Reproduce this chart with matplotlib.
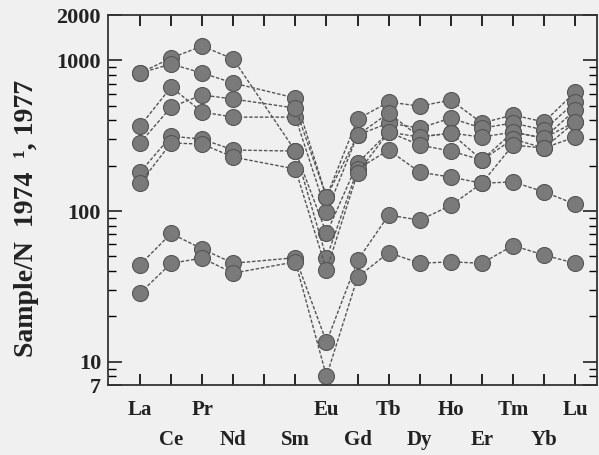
import numpy as np
import matplotlib.pyplot as plt
from matplotlib.ticker import FixedLocator, NullFormatter

# REE spider diagram, chondrite normalised
elements = ["La", "Ce", "Pr", "Nd", "Sm", "Eu", "Gd", "Tb", "Dy", "Ho", "Er", "Tm", "Yb", "Lu"]
positions = [0, 1, 2, 3, 5, 6, 7, 8, 9, 10, 11, 12, 13, 14]   # Pm (4) left out
row1 = ["La", "Pr", "Eu", "Tb", "Ho", "Tm", "Lu"]
row2 = ["Ce", "Nd", "Sm", "Gd", "Dy", "Er", "Yb"]

s1 = [824, 1036, 1245, 1020, 250, 71, 208, 334, 310, 329, 218, 334, 305, 390]
s2 = [824, 945, 824, 707, 562, 124, 408, 529, 497, 545, 384, 434, 390, 616]
s3 = [366, 665, 454, 420, 420, 98, 319, 384, 355, 414, 355, 384, 345, 529]
s4 = [283, 490, 589, 554, 482, 124, 319, 447, 310, 329, 310, 334, 305, 468]
s5 = [181, 314, 300, 254, 250, 48.7, 190, 254, 181, 168, 153, 156, 134, 111]
s6 = [153, 283, 278, 228, 190, 40.5, 179, 334, 274, 250, 218, 300, 262, 390]
s7 = [44, 71, 56, 45, 49, 13.5, 47, 94, 87, 109, 153, 274, 262, 310]
s8 = [28.5, 45, 48.7, 38.7, 46, 8.0, 36.4, 53, 45, 46, 45, 59, 51, 45]

ytick_vals = [7, 10, 100, 1000, 2000]

plt.rcParams['font.family'] = ['Liberation Serif', 'DejaVu Serif']
plt.rcParams['font.weight'] = 'bold'

fig = plt.figure(figsize=(5.99, 4.55), dpi=100, facecolor='#eff0ef')
ax = fig.add_axes([0.1803, 0.1538, 0.8167, 0.8132])
ax.set_facecolor('#eff0ef')

for s in [s1, s2, s3, s4, s5, s6, s7, s8]:
    ax.plot(positions, s, linestyle=(0, (2.5, 1.3)), color='#555555', linewidth=1.0,
            marker='o', markersize=11.5, markerfacecolor='#7a7a7a',
            markeredgecolor='#555555', markeredgewidth=0.8)

ax.set_yscale('log')
ax.set_ylim(7, 2000)
ax.set_xlim(-1.03, 14.71)

ax.yaxis.set_major_locator(FixedLocator(ytick_vals))
ax.set_yticklabels([str(v) for v in ytick_vals])
ax.yaxis.set_minor_locator(FixedLocator([8, 9] + list(range(20, 100, 10)) + list(range(200, 1000, 100))))
ax.yaxis.set_minor_formatter(NullFormatter())
ax.tick_params(axis='y', which='major', direction='in', length=10, width=1.2,
               right=True, labelsize=16, pad=5, colors='#222222')
ax.tick_params(axis='y', which='minor', direction='in', length=6, width=1, right=True)

ax.set_xticks(range(15))
ax.set_xticklabels([])
ax.tick_params(axis='x', direction='in', length=8, width=1.2, top=True)

for p, el in zip(positions, elements):
    if el in row1:
        ax.text(p, -0.068, el, transform=ax.get_xaxis_transform(), ha='center', va='center',
                fontsize=15, color='#222222')
    else:
        ax.text(p, -0.149, el, transform=ax.get_xaxis_transform(), ha='center', va='center',
                fontsize=15, color='#222222')

for sp in ax.spines.values():
    sp.set_linewidth(1.3)
    sp.set_color('#333333')

fig.text(0.045, 0.52, "Sample/N  1974  \u00b9, 1977", rotation=90, ha='center', va='center',
         fontsize=20, color='#222222')

fig.savefig("out.png", dpi=100, facecolor=fig.get_facecolor())
